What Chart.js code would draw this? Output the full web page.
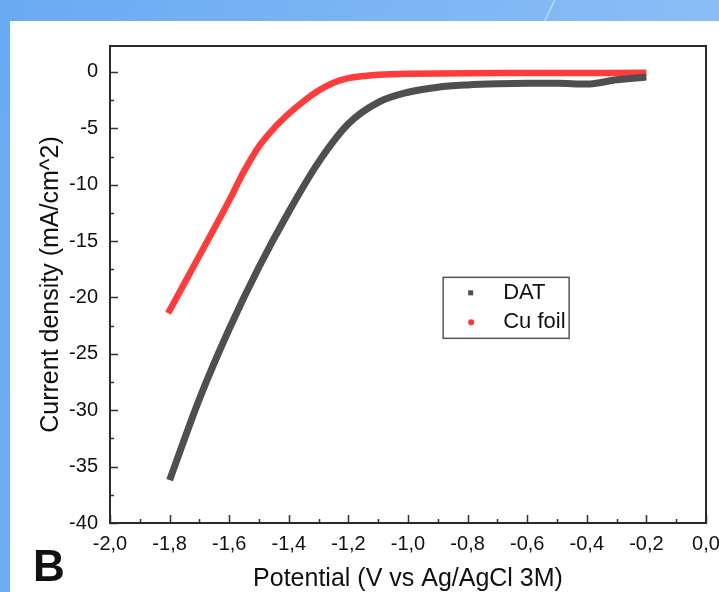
<!DOCTYPE html>
<html>
<head>
<meta charset="utf-8">
<script src="https://cdn.jsdelivr.net/npm/chart.js"></script>
<style>
  html, body { margin: 0; padding: 0; }
  body {
    width: 719px; height: 592px; overflow: hidden; position: relative;
    background: linear-gradient(100deg, #6aaaf2 0%, #80b8f5 60%, #8fc0f6 100%);
    font-family: "Liberation Sans", Arial, sans-serif;
  }
  #streak {
    position: absolute; left: 548px; top: 0; width: 2px; height: 24px;
    background: rgba(255,255,255,0.35); transform: skewX(-25deg);
  }
  #panel {
    position: absolute; left: 10px; top: 21px; width: 709px; height: 571px; background: #fff;
  }
  #tag {
    position: absolute; left: 33px; top: 541px; font: bold 44px "Liberation Sans", Arial, sans-serif; color: #111;
  }
</style>
</head>
<body>
<div id="streak"></div>
<div id="panel"><canvas id="c" width="709" height="571"></canvas></div>
<div id="tag">B</div>
<script>
var seriesNames = ['DAT', 'Cu foil'];

var datX = [-1.80, -1.70, -1.60, -1.50, -1.40, -1.30, -1.20, -1.10, -1.00, -0.90, -0.80, -0.70, -0.60, -0.50, -0.40, -0.30, -0.20];
var datY = [-36.2, -29.0, -22.8, -17.3, -12.4, -8.0, -4.6, -2.7, -1.8, -1.35, -1.15, -1.05, -1.0, -1.0, -1.08, -0.7, -0.45];

var cuX = [-1.805, -1.70, -1.60, -1.55, -1.50, -1.45, -1.40, -1.35, -1.30, -1.25, -1.20, -1.10, -1.00, -0.60, -0.20];
var cuY = [-21.4, -16.3, -11.4, -8.8, -6.6, -5.0, -3.7, -2.6, -1.65, -0.95, -0.55, -0.25, -0.15, -0.1, -0.08];

var xTicks = [-2.0, -1.8, -1.6, -1.4, -1.2, -1.0, -0.8, -0.6, -0.4, -0.2, 0.0];
var yTicks = [0, -5, -10, -15, -20, -25, -30, -35, -40];

function pts(xs, ys) {
  var out = [];
  for (var i = 0; i < xs.length; i++) out.push({x: xs[i], y: ys[i]});
  return out;
}

// box + inward ticks like the Origin plot
var frame = {
  id: 'frame',
  afterDraw: function(chart) {
    var ctx = chart.ctx, a = chart.chartArea;
    var xs = chart.scales.x, ys = chart.scales.y;
    ctx.save();
    ctx.strokeStyle = '#333';
    ctx.lineWidth = 1.5;
    ctx.beginPath();
    for (var v = -2.0; v <= 0.0001; v += 0.1) {
      var px = Math.round(xs.getPixelForValue(v)) + 0.5;
      var major = Math.abs(Math.round(v * 10)) % 2 == 0;
      ctx.moveTo(px, a.bottom);
      ctx.lineTo(px, a.bottom - (major ? 8 : 4));
    }
    for (var w = -40; w <= 0; w += 2.5) {
      var py = Math.round(ys.getPixelForValue(w)) + 0.5;
      var maj = w % 5 == 0;
      ctx.moveTo(a.left, py);
      ctx.lineTo(a.left + (maj ? 8 : 4), py);
    }
    ctx.stroke();
    ctx.lineWidth = 2;
    ctx.strokeStyle = '#2a2a2a';
    ctx.strokeRect(a.left, a.top, a.right - a.left, a.bottom - a.top);

    // legend
    var lx = a.left + (a.right - a.left) * 0.559, ly = a.top + (a.bottom - a.top) * 0.485;
    ctx.lineWidth = 1.5;
    ctx.strokeStyle = '#555';
    ctx.strokeRect(lx, ly, 126, 61);
    ctx.fillStyle = '#4d4d4d';
    ctx.fillRect(lx + 25, ly + 13, 5, 5);
    ctx.fillStyle = '#ff3333';
    ctx.beginPath();
    ctx.arc(lx + 28, ly + 45, 3, 0, Math.PI * 2);
    ctx.fill();
    ctx.fillStyle = '#111';
    ctx.font = '22px "Liberation Sans", Arial, sans-serif';
    ctx.textBaseline = 'middle';
    ctx.fillText(seriesNames[0], lx + 60, ly + 16);
    ctx.fillText(seriesNames[1], lx + 60, ly + 45);
    ctx.restore();
  }
};

new Chart(document.getElementById('c'), {
  type: 'line',
  data: {
    datasets: [{
      label: seriesNames[0],
      data: pts(datX, datY),
      borderColor: '#4f4f4f',
      borderWidth: 7,
      pointRadius: 0,
      cubicInterpolationMode: 'monotone',
      borderCapStyle: 'butt'
    }, {
      label: seriesNames[1],
      data: pts(cuX, cuY),
      borderColor: '#ff3c3c',
      borderWidth: 6.5,
      pointRadius: 0,
      cubicInterpolationMode: 'monotone'
    }]
  },
  options: {
    responsive: false,
    animation: false,
    layout: { padding: { top: 25, right: 13, left: 0, bottom: 0 } },
    plugins: { legend: { display: false }, tooltip: { enabled: false } },
    scales: {
      x: {
        type: 'linear',
        min: -2, max: 0,
        afterFit: function(s) { s.height = 69; s.paddingLeft = 0; s.paddingRight = 0; },
        afterBuildTicks: function(s) { s.ticks = xTicks.map(function(v) { return {value: v}; }); },
        grid: { display: true, drawOnChartArea: false, drawTicks: false },
        border: { display: false },
        ticks: {
          color: '#111', padding: 9,
          font: { size: 20, family: '"Liberation Sans", Arial, sans-serif' },
          maxRotation: 0, autoSkip: false,
          callback: function(v) { return v.toFixed(1).replace('.', ','); }
        },
        title: {
          display: true, text: 'Potential (V vs Ag/AgCl 3M)', color: '#111',
          font: { size: 25, lineHeight: 1, family: '"Liberation Sans", Arial, sans-serif' },
          padding: { top: 0, bottom: 0 }
        }
      },
      y: {
        min: -40, max: 2.3,
        afterFit: function(s) { s.width = 100; s.paddingTop = 0; s.paddingBottom = 0; },
        afterBuildTicks: function(s) { s.ticks = yTicks.map(function(v) { return {value: v}; }); },
        grid: { display: true, drawOnChartArea: false, drawTicks: false },
        border: { display: false },
        ticks: {
          color: '#111', padding: 12,
          font: { size: 20, family: '"Liberation Sans", Arial, sans-serif' },
          autoSkip: false
        },
        title: {
          display: true, text: 'Current density (mA/cm^2)', color: '#111',
          font: { size: 25, lineHeight: 1, family: '"Liberation Sans", Arial, sans-serif' },
          padding: { top: 29, bottom: 0 }
        }
      }
    }
  },
  plugins: [frame]
});
</script>
</body>
</html>
